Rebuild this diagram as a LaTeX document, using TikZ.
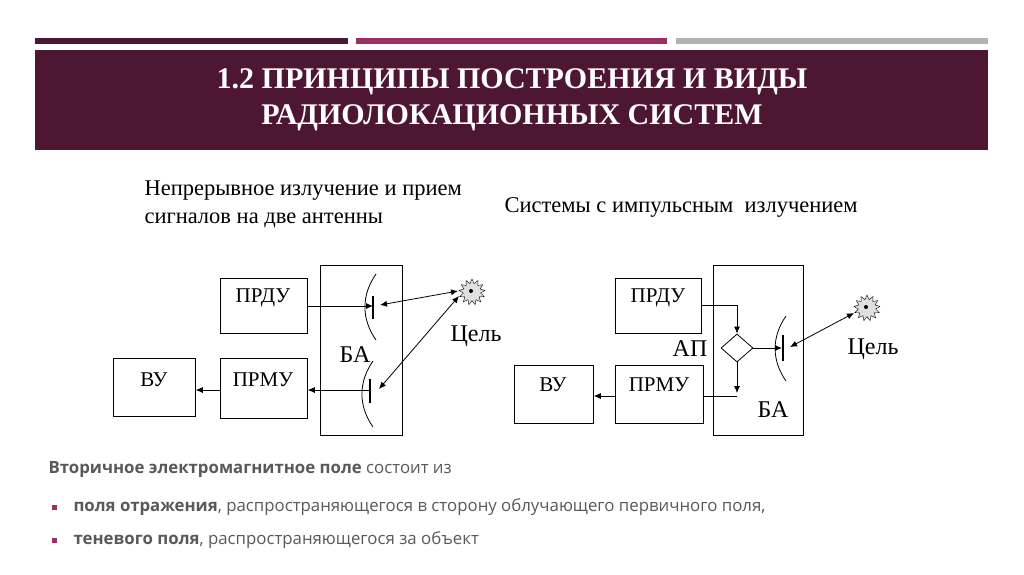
\documentclass[tikz,border=0pt]{standalone}
\usepackage{fontspec}
\setmainfont{Liberation Serif}
\newfontfamily\osans{Open Sans}
\usetikzlibrary{shapes.geometric,arrows.meta}
\definecolor{maroon}{HTML}{4D1734}
\definecolor{mag}{HTML}{9B2E63}
\definecolor{txtg}{HTML}{595959}
\begin{document}
\begin{tikzpicture}[x=1pt,y=-1pt,
  blk/.style={draw,line width=0.8pt},
  lbl/.style={font=\fontsize{21}{21}\selectfont},
  big/.style={font=\fontsize{24}{24}\selectfont},
  arr/.style={-{Latex[length=7pt,width=6pt]},line width=0.8pt},
  darr/.style={{Latex[length=7pt,width=6pt]}-{Latex[length=7pt,width=6pt]},line width=0.8pt},
  ant/.style={line width=2.5pt},
  tgt/.style={star,star points=13,star point ratio=1.5,minimum size=26pt,draw,thin,fill=gray!25,inner sep=0pt},
  btxt/.style={anchor=west,text=txtg,font=\osans\fontsize{16.8}{16.8}\selectfont}]
\useasboundingbox (0,0) rectangle (1024,574);
\fill[white] (0,0) rectangle (1024,574);
\fill[maroon] (35,38) rectangle (348,44);
\fill[mag] (356,38) rectangle (667,44);
\fill[gray!60] (676,38) rectangle (988,44);
\fill[maroon] (35,50) rectangle (988,150);
\node[text=white,font=\bfseries\fontsize{30}{36}\selectfont,align=center] (title) at (512,100) {1.2 ПРИНЦИПЫ ПОСТРОЕНИЯ И ВИДЫ\\РАДИОЛОКАЦИОННЫХ СИСТЕМ};
\node[font=\fontsize{22.5}{28}\selectfont,anchor=west,align=left] (h1) at (141,204) {Непрерывное излучение и прием\\сигналов на две антенны};
\node[font=\fontsize{22.5}{28}\selectfont,anchor=west] (h2) at (501,207) {Системы с импульсным\ \ излучением};
% left diagram
\draw[blk] (320,265) rectangle (402,435);
\node[blk,minimum width=87pt,minimum height=55pt,anchor=north west] (prdu1) at (220,278) {};
\node[lbl] at (263,298) {ПРДУ};
\node[blk,minimum width=87pt,minimum height=60pt,anchor=north west] (prmu1) at (220,358) {};
\node[lbl] at (263,380) {ПРМУ};
\node[blk,minimum width=82pt,minimum height=58pt,anchor=north west] (vu1) at (113,358) {};
\node[lbl] at (154,380) {ВУ};
\node[big] (ba1) at (355,355) {БА};
\coordinate (a1) at (373,306);
\coordinate (a2) at (370,390);
\draw[ant] (373,296) -- (373,319);
\draw[ant] (370,379) -- (370,403);
\draw[thick] (376,274) to[out=235,in=125] (376,340);
\draw[thick] (373,361) to[out=235,in=125] (373,427);
\node[tgt] (t1) at (472,292) {};
\fill (471,291) circle (2pt);
\node[big] (c1) at (476,336) {Цель};
\draw[arr] (prdu1.east |- a1) -- (a1);
\draw[darr] (380,305) -- (458,291);
\draw[darr] (459,296) -- (379,389);
\draw[arr] (a2) -- (prmu1.east |- a2);
\draw[arr] (prmu1.west |- a2) -- (vu1.east |- a2);
% right diagram
\draw[blk] (713,265) rectangle (803,435);
\node[blk,minimum width=86pt,minimum height=55pt,anchor=north west] (prdu2) at (615,278) {};
\node[lbl] at (658,298) {ПРДУ};
\node[blk,minimum width=88pt,minimum height=58pt,anchor=north west] (prmu2) at (615,365) {};
\node[lbl] at (659,385) {ПРМУ};
\node[diamond,draw,thick,minimum width=32pt,minimum height=28pt,inner sep=0pt] (ap) at (737,348) {};
\node[blk,minimum width=79pt,minimum height=58pt,anchor=north west] (vu2) at (514,365) {};
\node[lbl] at (553,385) {ВУ};
\node[big] at (690,349) {АП};
\node[big] at (773,410) {БА};
\draw[ant] (783,335) -- (783,361);
\draw[thick] (786,316) to[out=235,in=125] (786,381);
\coordinate (a3) at (782,348);
\node[tgt] (t2) at (867,308) {};
\fill (866,307) circle (2pt);
\node[big] at (873,349) {Цель};
\coordinate (k1) at (737,305);
\coordinate (k2) at (737,396);
\draw[arr] (prdu2.east |- k1) -- (k1) -- (ap.north);
\draw[arr] (ap.south) -- (737,393);
\draw[thick] (k2) -- (prmu2.east |- k2);
\draw[arr] (ap.east) -- (a3);
\draw[darr] (790,347) -- (854,313);
\draw[arr] (prmu2.west |- k2) -- (vu2.east |- k2);
% bottom text
\node[btxt] at (45,470) {\textbf{Вторичное электромагнитное поле} состоит из};
\fill[mag] (52,505) rectangle (57,510);
\node[btxt] at (70,507) {\textbf{поля отражения}, распространяющегося в сторону облучающего первичного поля,};
\fill[mag] (52,538) rectangle (57,543);
\node[btxt] at (70,540) {\textbf{теневого поля}, распространяющегося за объект};
\end{tikzpicture}
\end{document}
